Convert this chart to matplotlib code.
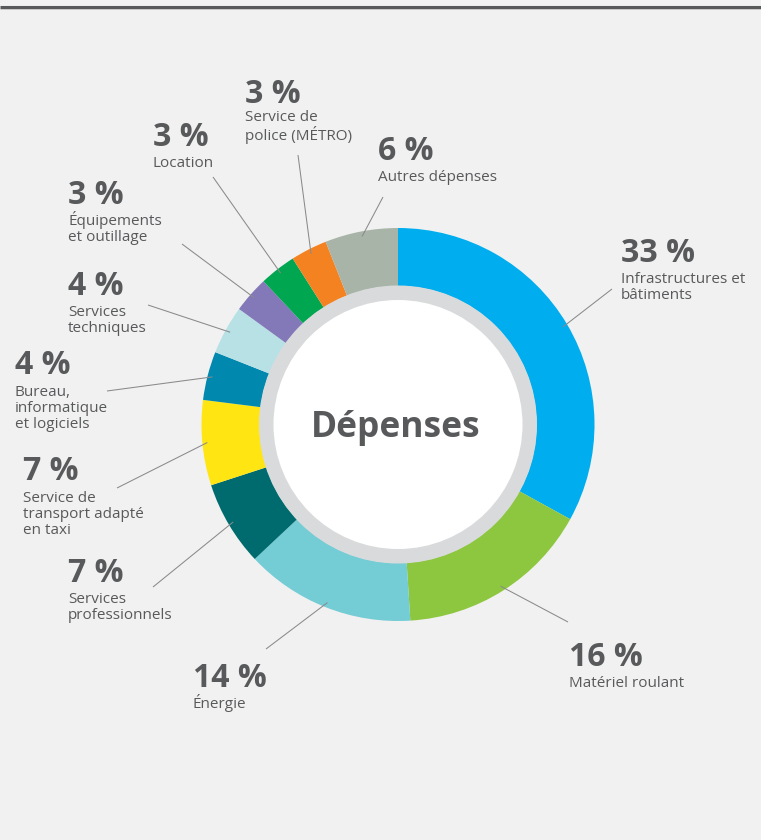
import numpy as np
import matplotlib.pyplot as plt
from matplotlib.patches import Circle

# Data: clockwise from 12 o'clock
categories = [
    "Infrastructures et\nbâtiments",
    "Matériel roulant",
    "Énergie",
    "Services\nprofessionnels",
    "Service de\ntransport adapté\nen taxi",
    "Bureau,\ninformatique\net logiciels",
    "Services\ntechniques",
    "Équipements\net outillage",
    "Location",
    "Service de\npolice (MÉTRO)",
    "Autres dépenses",
]
values = [33, 16, 14, 7, 7, 4, 4, 3, 3, 3, 6]
colors = ['#00ADEE', '#8DC63F', '#74CCD5', '#006B6E', '#FFE512', '#0088AE',
          '#B8E1E6', '#8378B8', '#00A650', '#F58220', '#A9B4A8']

# label anchor (x of text, baseline of percent) and outer end of leader line, in pixels
label_pos = [(621, 262), (569, 666), (193, 687), (68, 582), (23, 480), (15, 374),
             (68, 295), (68, 204), (153, 146), (245, 103), (378, 160)]
line_end = [(612, 289), (568, 622), (266, 649), (153, 587), (117, 488), (107, 391),
            (148, 305), (182, 244), (213, 177), (298, 155), (383, 197)]

W, H = 761, 840
bg = '#F1F1F1'
txt = '#58595B'
cx, cy = 398, 424.5
r_out = 196.5
ring_w = 58
line_h = 16.3

plt.rcParams['font.family'] = ['Open Sans', 'DejaVu Sans']

fig = plt.figure(figsize=(W / 100, H / 100), dpi=100, facecolor=bg)
ax = fig.add_axes([0, 0, 1, 1])
ax.set_facecolor(bg)

# donut (y axis is inverted below, so start at -90 and go counterclock in data = clockwise on screen)
ax.pie(values, colors=colors, startangle=-90, counterclock=True,
       center=(cx, cy), radius=r_out,
       wedgeprops=dict(width=ring_w, linewidth=0))
ax.set_xlim(0, W)
ax.set_ylim(H, 0)
ax.set_aspect('equal')
ax.axis('off')

r_in = r_out - ring_w
ax.add_patch(Circle((cx, cy), r_in + 0.5, facecolor='#D9DADB', edgecolor='none', zorder=3))
ax.add_patch(Circle((cx, cy), r_in - 14, facecolor='white', edgecolor='none', zorder=4))
ax.text(cx - 2, 437, "Dépenses", ha='center', va='baseline', fontsize=25.5,
        fontweight='bold', color=txt, zorder=5)

# leader lines and labels
cum = np.cumsum([0] + values[:-1])
for i, (lab, v) in enumerate(zip(categories, values)):
    mid = (cum[i] + v / 2) / sum(values) * 2 * np.pi
    r = r_out - 5
    px = cx + r * np.sin(mid)
    py = cy - r * np.cos(mid)
    ex, ey = line_end[i]
    ax.plot([px, ex], [py, ey], color='#8A8A8A', lw=0.75, zorder=6,
            solid_capstyle='butt')
    lx, ly = label_pos[i]
    ax.text(lx, ly, f"{v} %", ha='left', va='baseline', fontsize=23,
            fontweight='bold', color=txt)
    n = lab.count("\n")
    # multi-line text: baseline alignment refers to the last line
    ax.text(lx, ly + 21 + n * line_h, lab, ha='left', va='baseline', fontsize=11,
            linespacing=1.08, color=txt)

# top rule
ax.plot([0, W], [7.2, 7.2], color='#58595B', lw=2.2, solid_capstyle='butt')
ax.plot([0, W], [9.2, 9.2], color='#C8C8C8', lw=0.7, solid_capstyle='butt')

fig.savefig("out.png", dpi=100, facecolor=bg)
